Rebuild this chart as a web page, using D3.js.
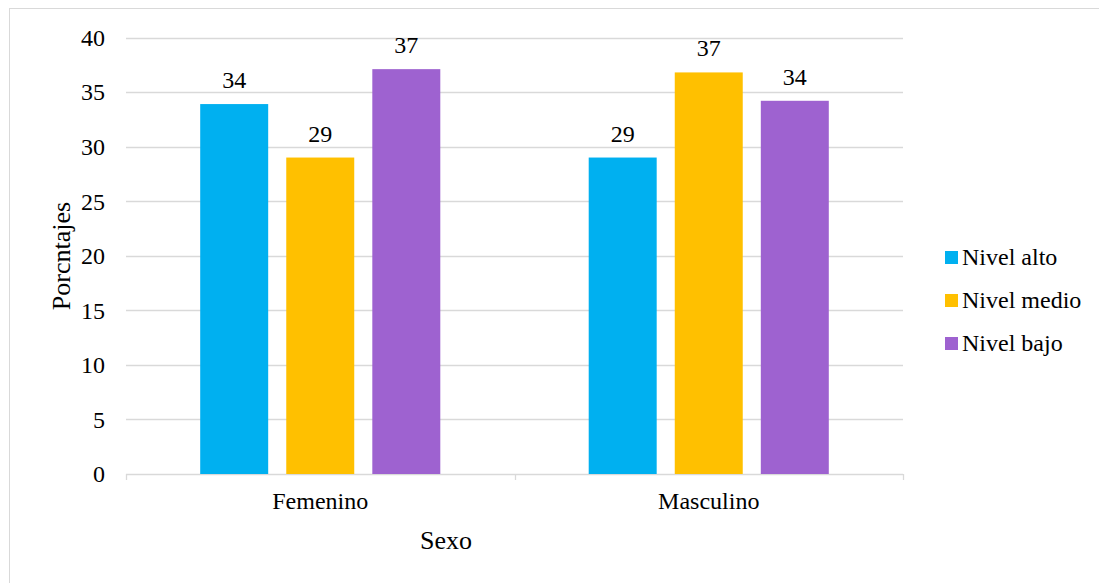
<!DOCTYPE html>
<meta charset="utf-8">
<style>
body { margin: 0; background: #fff; }
svg text { font-family: "Liberation Serif", "Times New Roman", Times, serif; fill: #000; }
</style>
<svg width="1099" height="583"></svg>
<script src="https://d3js.org/d3.v7.min.js"></script>
<script>

// data
var categories = ["Femenino", "Masculino"];
var series = ["Nivel alto", "Nivel medio", "Nivel bajo"];
var colors = ["#00b0f0", "#ffc000", "#9e62d0"];
var valuesAlto = [33.9, 29.0];
var valuesMedio = [29.0, 36.8];
var valuesBajo = [37.1, 34.2];
var yTicks = [0, 5, 10, 15, 20, 25, 30, 35, 40];

var allValues = [valuesAlto, valuesMedio, valuesBajo];

var serif = "'Liberation Serif', 'Times New Roman', serif";

var svg = d3.select("svg");

// outer frame of the chart area
svg.append("rect")
    .attr("x", 9.5).attr("y", 8.5)
    .attr("width", 1100).attr("height", 600)
    .attr("fill", "none")
    .attr("stroke", "#d9d9d9");

var plotLeft = 126, plotRight = 903, plotTop = 37.5, plotBottom = 474;

var y = d3.scaleLinear().domain([0, 40]).range([plotBottom, plotTop]);

var x0 = d3.scaleBand().domain(categories).range([plotLeft, plotRight]).padding(0);
var groupW = x0.bandwidth() * 0.618;
var x1 = d3.scaleBand().domain(series)
    .range([(x0.bandwidth() - groupW) / 2, (x0.bandwidth() + groupW) / 2])
    .paddingInner(0.21).paddingOuter(0);

// gridlines
svg.append("g")
  .selectAll("line")
  .data(yTicks)
  .enter().append("line")
    .attr("x1", plotLeft).attr("x2", plotRight)
    .attr("y1", function(d) { return Math.round(y(d)) + 0.5; })
    .attr("y2", function(d) { return Math.round(y(d)) + 0.5; })
    .attr("stroke", "#d9d9d9")
    .attr("stroke-width", 1.3);

// y tick labels
svg.append("g")
  .selectAll("text")
  .data(yTicks)
  .enter().append("text")
    .attr("x", 105)
    .attr("y", function(d) { return y(d); })
    .attr("dy", "0.35em")
    .attr("text-anchor", "end")
    .attr("font-family", serif)
    .attr("font-size", 24)
    .text(function(d) { return d; });

// category tick marks
var tickXs = [plotLeft].concat(categories.map(function(c) { return x0(c) + x0.bandwidth(); }));
svg.append("g")
  .selectAll("line")
  .data(tickXs)
  .enter().append("line")
    .attr("x1", function(d) { return Math.round(d) + 0.5; })
    .attr("x2", function(d) { return Math.round(d) + 0.5; })
    .attr("y1", plotBottom).attr("y2", plotBottom + 6)
    .attr("stroke", "#d9d9d9")
    .attr("stroke-width", 1.3);

// x tick labels
svg.append("g")
  .selectAll("text")
  .data(categories)
  .enter().append("text")
    .attr("x", function(d) { return x0(d) + x0.bandwidth() / 2; })
    .attr("y", 509)
    .attr("text-anchor", "middle")
    .attr("font-family", serif)
    .attr("font-size", 24)
    .text(function(d) { return d; });

// bars + labels
series.forEach(function(s, si) {
  var g = svg.append("g");
  g.selectAll("rect")
    .data(categories)
    .enter().append("rect")
      .attr("x", function(c) { return x0(c) + x1(s); })
      .attr("y", function(c, i) { return y(allValues[si][i]); })
      .attr("width", x1.bandwidth())
      .attr("height", function(c, i) { return plotBottom - y(allValues[si][i]); })
      .attr("fill", colors[si]);

  g.selectAll("text")
    .data(categories)
    .enter().append("text")
      .attr("x", function(c) { return x0(c) + x1(s) + x1.bandwidth() / 2; })
      .attr("y", function(c, i) { return y(allValues[si][i]) - 16; })
      .attr("text-anchor", "middle")
      .attr("font-family", serif)
      .attr("font-size", 24)
      .text(function(c, i) { return Math.round(allValues[si][i]); });
});

// axis titles
svg.append("text")
    .attr("x", 446).attr("y", 549)
    .attr("text-anchor", "middle")
    .attr("font-family", serif)
    .attr("font-size", 26)
    .text("Sexo");

svg.append("text")
    .attr("transform", "translate(70,256) rotate(-90)")
    .attr("text-anchor", "middle")
    .attr("font-family", serif)
    .attr("font-size", 26)
    .text("Porcntajes");

// legend
var legend = svg.append("g")
  .selectAll("g")
  .data(series)
  .enter().append("g")
    .attr("transform", function(d, i) { return "translate(945," + (257 + i * 43) + ")"; });

legend.append("rect")
    .attr("x", 0).attr("y", -6)
    .attr("width", 13).attr("height", 13)
    .attr("fill", function(d, i) { return colors[i]; });

legend.append("text")
    .attr("x", 17)
    .attr("dy", "0.35em")
    .attr("font-family", serif)
    .attr("font-size", 24)
    .text(function(d) { return d; });

</script>
